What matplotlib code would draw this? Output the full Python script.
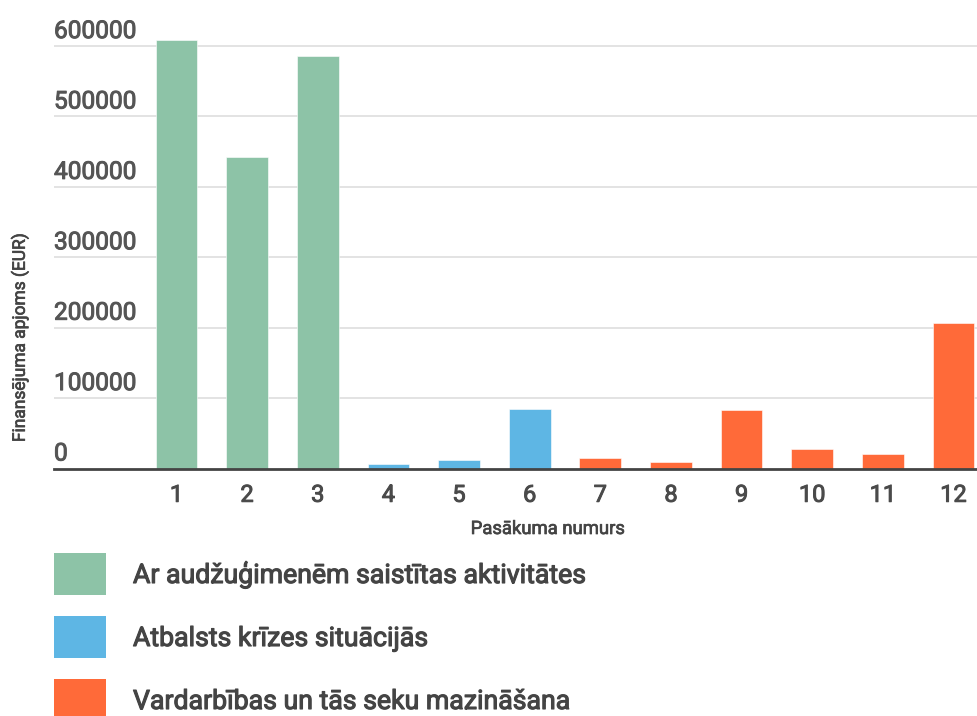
import matplotlib
matplotlib.use("Agg")
import matplotlib.pyplot as plt
import matplotlib.patheffects as pe
from matplotlib.patches import Rectangle
from matplotlib.transforms import offset_copy

# ---- data ----
series_names = [
    "Ar audžuģimenēm saistītas aktivitātes",
    "Atbalsts krīzes situācijās",
    "Vardarbības un tās seku mazināšana",
]
series_x = [[1, 2, 3], [4, 5, 6], [7, 8, 9, 10, 11, 12]]
series_values = [
    [608000, 443000, 585700],
    [6700, 11800, 84800],
    [14600, 9500, 82400, 28000, 20300, 206400],
]
colors = ["#8DC3A7", "#5EB6E4", "#FF6A39"]
x_ticks = [1, 2, 3, 4, 5, 6, 7, 8, 9, 10, 11, 12]
y_ticks = [0, 100000, 200000, 300000, 400000, 500000, 600000]
x_label = "Pasākuma numurs"
y_label = "Finansējuma apjoms (EUR)"

W, H = 978, 716
plt.rcParams["font.family"] = ["Roboto", "DejaVu Sans"]


def med(color, lw=0.7):
    return [pe.withStroke(linewidth=lw, foreground=color)]


fig = plt.figure(figsize=(W / 100, H / 100), dpi=100)
ax = fig.add_axes([54 / W, (H - 468.5) / H, (978 - 54) / W, 436.5 / H])

for xs, vals, c in zip(series_x, series_values, colors):
    ax.bar(xs, vals, width=0.59, color=c, edgecolor="white", linewidth=0.4, zorder=3)

ax.set_xlim(-0.734, 12.347)
ax.set_ylim(0, 620000)

# grid
for yv in y_ticks[1:]:
    ax.axhline(yv, color="#e0e0e0", linewidth=1.3, zorder=1)

for s in ["top", "right", "left"]:
    ax.spines[s].set_visible(False)
ax.spines["bottom"].set_color("#444444")
ax.spines["bottom"].set_linewidth(2.0)
ax.spines["bottom"].set_zorder(4)

ax.set_yticks([])
ax.set_xticks(x_ticks)
ax.set_xticklabels([str(v) for v in x_ticks], fontsize=17, color="#4a4a4a")
for lab in ax.get_xticklabels():
    lab.set_path_effects(med("#4a4a4a"))
ax.tick_params(axis="x", length=0, pad=11)

# y tick labels above gridlines
tr = offset_copy(ax.get_yaxis_transform(), fig=fig, x=0, y=8, units="dots")
for yv in y_ticks:
    ax.text(0, yv, str(yv), transform=tr, ha="left", va="baseline",
            fontsize=17.6, color="#555555", path_effects=med("#555555"))

fig.text(548 / W, 1 - 529 / H, x_label, ha="center", va="center",
         fontsize=13.3, color="#444444", path_effects=med("#444444", 0.5))
fig.text(20 / W, 1 - 338 / H, y_label, ha="center", va="center", rotation=90,
         fontsize=12.5, color="#444444", path_effects=med("#444444", 0.5))

# legend
for i, (name, c) in enumerate(zip(series_names, colors)):
    top = 553 + 63 * i
    fig.patches.append(Rectangle((54 / W, 1 - (top + 42) / H), 52 / W, 42 / H,
                                 transform=fig.transFigure, facecolor=c,
                                 edgecolor="none"))
    fig.text(133 / W, 1 - (top + 30) / H, name, ha="left", va="baseline",
             fontsize=19.2, color="#444444", path_effects=med("#444444", 0.8))

fig.savefig("out.png", dpi=100)
